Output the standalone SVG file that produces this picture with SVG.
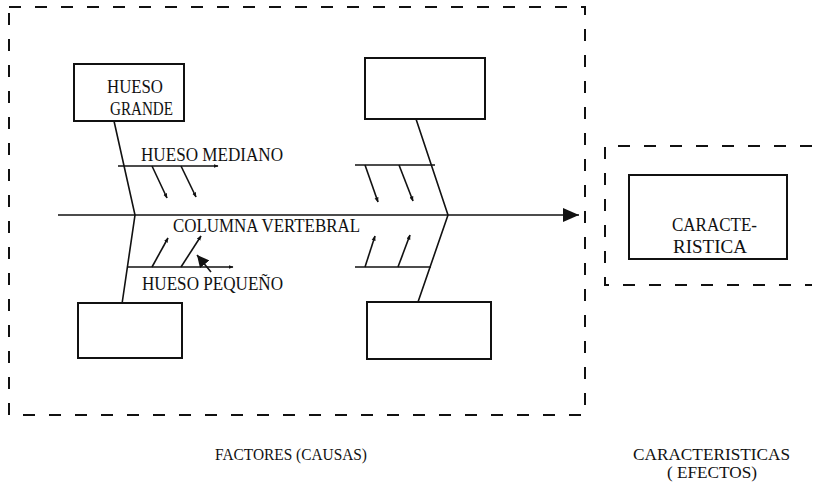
<svg xmlns="http://www.w3.org/2000/svg" width="817" height="488" viewBox="0 0 817 488">
<style>
.dash{fill:none;stroke:#111;stroke-width:2;stroke-dasharray:12 14}
.box{fill:none;stroke:#111;stroke-width:2}
.ln{fill:none;stroke:#111;stroke-width:1.6}
.t{font-family:"Liberation Serif","Times New Roman",serif;font-size:18px;fill:#111}
.s{font-size:17px}
</style>
<defs>
<marker id="ah" viewBox="0 0 10 10" refX="9" refY="5" markerWidth="5" markerHeight="5" orient="auto" markerUnits="userSpaceOnUse">
<path d="M0,1 L10,5 L0,9 z" fill="#111"/>
</marker>
<marker id="big" viewBox="0 0 16 14" refX="16" refY="7" markerWidth="16" markerHeight="14" orient="auto" markerUnits="userSpaceOnUse">
<path d="M0,0 L16,7 L0,14 z" fill="#111"/>
</marker>
<marker id="mid" viewBox="0 0 12 12" refX="12" refY="6" markerWidth="12" markerHeight="12" orient="auto" markerUnits="userSpaceOnUse">
<path d="M0,0 L12,6 L0,12 z" fill="#111"/>
</marker>
</defs>

<g id="frames">
<rect class="dash" x="9" y="7" width="576" height="408"/>
<path class="dash" d="M812,146 H605 V285 H812"/>
</g>

<g id="hueso-grande">
<rect class="box" x="74" y="64" width="110" height="57"/>
<text class="t" x="107" y="93" textLength="56" lengthAdjust="spacingAndGlyphs">HUESO</text>
<text class="t" x="110" y="115" textLength="63" lengthAdjust="spacingAndGlyphs">GRANDE</text>
</g>
<g id="box-top-right">
<rect class="box" x="365" y="58" width="120" height="61"/>
</g>
<g id="box-bottom-left">
<rect class="box" x="78" y="303" width="104" height="55"/>
</g>
<g id="box-bottom-right">
<rect class="box" x="367" y="302" width="124" height="57"/>
</g>
<g id="caracteristica">
<rect class="box" x="629" y="175" width="158" height="84"/>
<text class="t" x="672" y="231" textLength="85" lengthAdjust="spacingAndGlyphs">CARACTE-</text>
<text class="t" x="673" y="253" textLength="74" lengthAdjust="spacingAndGlyphs">RISTICA</text>
</g>

<g id="connectors">
<line class="ln" x1="58" y1="215" x2="579" y2="215" stroke-width="2" marker-end="url(#big)"/>
<polyline class="ln" points="114,121 135,215 122,304"/>
<polyline class="ln" points="416,119 448,215 418,302"/>
<line class="ln" x1="118" y1="166" x2="218" y2="166" marker-end="url(#ah)"/>
<line class="ln" x1="152" y1="166" x2="167" y2="198" marker-end="url(#ah)"/>
<line class="ln" x1="181" y1="166" x2="196" y2="197" marker-end="url(#ah)"/>
<line class="ln" x1="127" y1="267" x2="233" y2="267" marker-end="url(#ah)"/>
<line class="ln" x1="152" y1="267" x2="168" y2="238" marker-end="url(#ah)"/>
<line class="ln" x1="181" y1="267" x2="201" y2="236" marker-end="url(#ah)"/>
<line class="ln" x1="211" y1="272" x2="197" y2="255" marker-end="url(#mid)"/>
<line class="ln" x1="355" y1="165" x2="435" y2="165"/>
<line class="ln" x1="365" y1="165" x2="378" y2="202" marker-end="url(#ah)"/>
<line class="ln" x1="399" y1="165" x2="413" y2="201" marker-end="url(#ah)"/>
<line class="ln" x1="355" y1="267" x2="431" y2="267"/>
<line class="ln" x1="365" y1="267" x2="375" y2="236" marker-end="url(#ah)"/>
<line class="ln" x1="398" y1="267" x2="410" y2="235" marker-end="url(#ah)"/>
</g>

<g id="labels">
<text class="t" x="141" y="161" textLength="142" lengthAdjust="spacingAndGlyphs">HUESO MEDIANO</text>
<text class="t" x="173" y="232" textLength="187" lengthAdjust="spacingAndGlyphs">COLUMNA VERTEBRAL</text>
<text class="t" x="142" y="290" textLength="141" lengthAdjust="spacingAndGlyphs">HUESO PEQUEÑO</text>
<text class="t s" x="215" y="460" textLength="152" lengthAdjust="spacingAndGlyphs">FACTORES (CAUSAS)</text>
<text class="t s" x="633" y="460" textLength="157" lengthAdjust="spacingAndGlyphs">CARACTERISTICAS</text>
<text class="t s" x="667" y="478" textLength="90" lengthAdjust="spacingAndGlyphs">( EFECTOS)</text>
</g>
</svg>
